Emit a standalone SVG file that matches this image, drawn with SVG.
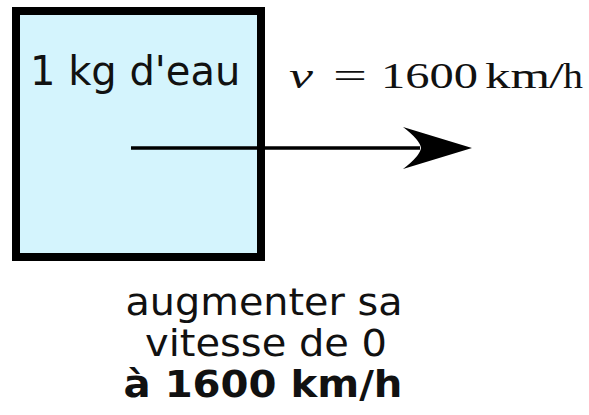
<svg xmlns="http://www.w3.org/2000/svg" width="589" height="415" viewBox="0 0 589 415">
<style>
.sans{font-family:"DejaVu Sans",sans-serif;font-size:40px;fill:#111}
.cap{font-family:"DejaVu Sans",sans-serif;font-size:38px;fill:#111}
.math{font-family:"Liberation Serif",serif;font-size:35px;fill:#111}
</style>
<rect width="589" height="415" fill="#fff"/>
<g id="box">
<rect x="16" y="11" width="245" height="246" fill="#d4f4fd" stroke="#000" stroke-width="8"/>
<text class="sans" x="30" y="85">1 kg d'eau</text>
</g>
<g id="connectors">
<line x1="131" y1="148" x2="420" y2="148" stroke="#000" stroke-width="3.5"/>
<path d="M472,148 L403,127 Q420,140 421,148 Q420,156 403,169 Z" fill="#000"/>
</g>
<g id="velocity">
<text class="math" x="289" y="88" font-style="italic" textLength="24" lengthAdjust="spacingAndGlyphs">v</text>
<text class="math" x="333" y="88" textLength="34" lengthAdjust="spacingAndGlyphs">=</text>
<text class="math" x="381" y="88" textLength="97" lengthAdjust="spacingAndGlyphs">1600</text>
<text class="math" x="485" y="88" textLength="65" lengthAdjust="spacingAndGlyphs">km</text>
<text class="math" x="549" y="88" textLength="15" lengthAdjust="spacingAndGlyphs">/</text>
<text class="math" x="563" y="88" textLength="20" lengthAdjust="spacingAndGlyphs">h</text>
</g>
<g id="caption">
<text class="cap" x="264" y="315" text-anchor="middle" textLength="277" lengthAdjust="spacingAndGlyphs">augmenter sa</text>
<text class="cap" x="266" y="356" text-anchor="middle" textLength="242" lengthAdjust="spacingAndGlyphs">vitesse de 0</text>
<text class="cap" x="263" y="397" text-anchor="middle" font-weight="bold" textLength="279" lengthAdjust="spacingAndGlyphs">à 1600 km/h</text>
</g>
</svg>
